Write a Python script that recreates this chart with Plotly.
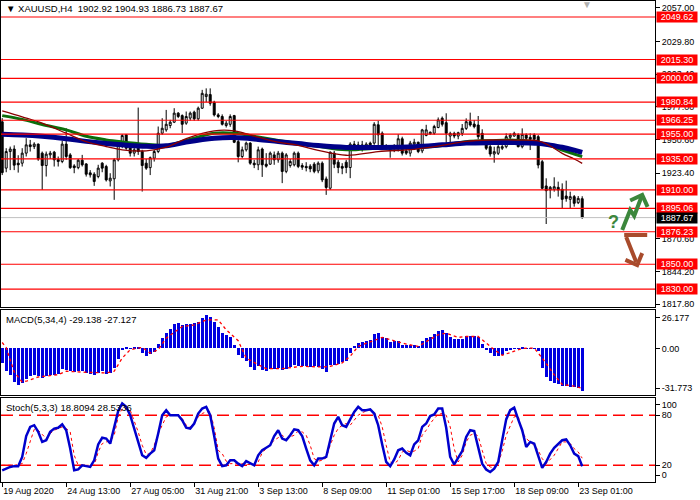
import plotly.graph_objects as go
from plotly.subplots import make_subplots

# ---- data (XAUUSD, H4) ----
bar_idx = list(range(146))

opens = [1965.0, 1927.6, 1941.0, 1943.0, 1931.6, 1931.6, 1939.7, 1946.4, 1945.0, 1947.0,
         1939.7, 1929.7, 1938.3, 1940.5, 1934.6, 1933.0, 1947.0, 1938.3, 1929.4, 1928.0,
         1934.0, 1931.0, 1923.8, 1922.7, 1920.8, 1931.6, 1928.9, 1917.3, 1919.0, 1934.3,
         1946.4, 1954.5, 1944.2, 1939.7, 1943.7, 1941.0, 1931.6, 1928.0, 1935.6, 1941.0,
         1955.8, 1958.5, 1962.0, 1964.7, 1972.0, 1970.0, 1963.9, 1968.0, 1972.8, 1967.4,
         1976.0, 1985.4, 1987.0, 1980.8, 1970.6, 1969.3, 1962.0, 1963.0, 1970.0, 1949.0,
         1937.0, 1942.4, 1947.8, 1931.6, 1930.3, 1943.0, 1930.8, 1930.8, 1938.3, 1934.3,
         1939.7, 1925.0, 1929.7, 1930.3, 1939.7, 1929.7, 1929.0, 1929.2, 1930.8, 1925.4,
         1931.6, 1918.9, 1911.4, 1939.7, 1932.4, 1929.0, 1932.4, 1928.1, 1947.0, 1943.7,
         1943.7, 1945.0, 1947.8, 1947.8, 1962.6, 1955.8, 1943.7, 1944.2, 1944.0, 1943.2,
         1951.3, 1941.5, 1939.7, 1947.0, 1948.5, 1941.5, 1954.0, 1955.3, 1955.8, 1960.4,
         1967.9, 1964.3, 1953.5, 1955.7, 1953.5, 1955.7, 1959.7, 1965.1, 1963.2, 1962.4,
         1955.7, 1948.2, 1944.9, 1939.0, 1939.6, 1943.6, 1944.9, 1952.5, 1953.5, 1954.3,
         1944.9, 1954.3, 1952.5, 1954.3, 1953.0, 1932.8, 1913.2, 1910.0, 1910.5, 1912.1,
         1910.5, 1905.1, 1902.4, 1904.6, 1899.7, 1902.92]
highs = [1968.0, 1943.7, 1945.0, 1946.0, 1938.0, 1943.7, 1951.8, 1950.4, 1948.5, 1947.5,
         1941.0, 1941.0, 1941.5, 1941.5, 1937.0, 1949.6, 1959.8, 1939.7, 1930.8, 1935.0,
         1938.3, 1931.6, 1926.0, 1924.3, 1930.3, 1932.4, 1930.3, 1923.5, 1935.6, 1949.0,
         1955.0, 1955.0, 1947.0, 1945.0, 1976.5, 1942.4, 1935.0, 1937.0, 1942.4, 1961.2,
         1967.9, 1974.6, 1966.6, 1976.0, 1972.8, 1971.0, 1973.3, 1973.3, 1974.0, 1977.3,
         1990.8, 1992.0, 1992.0, 1982.0, 1972.0, 1971.0, 1965.8, 1971.0, 1970.6, 1950.3,
         1945.0, 1949.0, 1948.5, 1934.3, 1945.0, 1944.2, 1939.7, 1941.0, 1941.0, 1941.5,
         1941.0, 1939.7, 1935.0, 1941.0, 1941.0, 1931.6, 1932.4, 1930.8, 1932.4, 1933.0,
         1933.0, 1920.8, 1941.0, 1941.5, 1934.3, 1931.6, 1934.3, 1948.5, 1949.6, 1949.0,
         1949.6, 1948.5, 1949.0, 1964.7, 1965.8, 1957.2, 1947.0, 1945.8, 1947.0, 1955.0,
         1953.0, 1943.2, 1949.6, 1951.3, 1949.0, 1959.3, 1962.6, 1957.2, 1962.6, 1968.5,
         1969.3, 1971.9, 1957.0, 1957.0, 1957.0, 1963.2, 1967.8, 1972.4, 1966.5, 1969.7,
         1959.0, 1949.8, 1946.3, 1944.9, 1946.3, 1947.0, 1955.7, 1955.7, 1957.0, 1955.7,
         1959.7, 1955.7, 1955.7, 1955.7, 1954.3, 1934.2, 1919.4, 1913.2, 1920.2, 1916.7,
         1915.3, 1917.5, 1908.6, 1905.9, 1905.1, 1904.93]
lows = [1922.0, 1924.3, 1926.0, 1926.0, 1924.0, 1928.9, 1937.0, 1941.0, 1943.0, 1933.5,
        1910.0, 1920.8, 1935.0, 1928.9, 1928.9, 1931.6, 1934.3, 1927.0, 1923.5, 1926.7,
        1928.9, 1920.8, 1920.0, 1913.3, 1919.4, 1924.3, 1916.8, 1912.8, 1902.0, 1933.0,
        1943.7, 1942.4, 1937.0, 1937.0, 1938.3, 1908.7, 1926.2, 1922.0, 1932.9, 1939.7,
        1954.5, 1957.0, 1959.8, 1964.0, 1968.0, 1955.8, 1962.6, 1966.0, 1965.9, 1965.9,
        1975.4, 1980.8, 1978.0, 1969.3, 1967.9, 1962.0, 1960.4, 1961.0, 1947.8, 1932.3,
        1935.6, 1941.0, 1930.3, 1927.6, 1926.0, 1920.5, 1928.0, 1930.3, 1930.3, 1932.0,
        1915.5, 1923.5, 1928.0, 1929.0, 1927.6, 1926.2, 1925.0, 1924.3, 1923.5, 1923.5,
        1916.3, 1906.0, 1910.0, 1927.6, 1923.5, 1922.7, 1923.5, 1919.5, 1942.4, 1942.4,
        1941.0, 1943.7, 1943.7, 1946.4, 1945.0, 1942.4, 1942.4, 1936.0, 1940.5, 1941.0,
        1937.8, 1938.3, 1937.0, 1945.0, 1939.7, 1939.7, 1953.3, 1954.5, 1954.5, 1959.8,
        1961.2, 1947.6, 1947.6, 1951.7, 1950.9, 1953.5, 1958.4, 1961.1, 1959.7, 1950.9,
        1946.3, 1942.2, 1936.9, 1932.0, 1938.2, 1942.2, 1943.6, 1950.3, 1953.0, 1944.4,
        1943.6, 1949.0, 1942.2, 1949.0, 1927.4, 1910.5, 1882.5, 1903.2, 1908.6, 1904.6,
        1895.1, 1900.5, 1895.1, 1896.5, 1898.6, 1886.73]
closes = [1924.0, 1941.0, 1943.0, 1930.0, 1930.3, 1939.7, 1946.4, 1945.0, 1947.0, 1935.0,
          1929.7, 1938.9, 1939.7, 1934.3, 1933.0, 1947.0, 1937.0, 1928.0, 1928.0, 1934.0,
          1930.3, 1922.7, 1922.2, 1916.8, 1927.6, 1927.6, 1918.1, 1919.5, 1934.3, 1947.0,
          1953.9, 1943.7, 1939.7, 1942.4, 1941.0, 1929.7, 1927.6, 1936.0, 1941.0, 1955.8,
          1959.8, 1963.0, 1964.7, 1972.0, 1969.3, 1963.0, 1969.3, 1972.0, 1967.4, 1976.0,
          1988.0, 1987.3, 1980.0, 1970.6, 1969.3, 1963.0, 1963.9, 1969.3, 1948.5, 1937.0,
          1942.4, 1947.8, 1931.6, 1930.3, 1942.4, 1930.3, 1929.2, 1939.7, 1934.3, 1939.7,
          1924.9, 1938.3, 1933.0, 1939.7, 1929.0, 1928.4, 1928.0, 1927.0, 1925.0, 1931.6,
          1918.1, 1912.0, 1940.5, 1930.8, 1928.1, 1927.6, 1928.1, 1947.0, 1943.7, 1946.4,
          1946.4, 1947.0, 1945.0, 1963.0, 1954.5, 1945.0, 1945.8, 1942.4, 1945.6, 1951.3,
          1939.7, 1939.7, 1947.8, 1948.5, 1941.0, 1958.5, 1958.5, 1956.6, 1961.2, 1966.6,
          1963.0, 1955.7, 1955.7, 1953.5, 1956.2, 1959.7, 1965.1, 1962.4, 1961.1, 1953.0,
          1947.6, 1943.6, 1939.0, 1940.9, 1944.9, 1944.9, 1953.0, 1954.3, 1955.7, 1944.9,
          1954.9, 1951.7, 1950.9, 1950.9, 1930.1, 1911.3, 1909.4, 1912.1, 1912.6, 1910.0,
          1902.4, 1903.0, 1904.6, 1899.2, 1903.2, 1887.67]

# moving averages, read at a handful of bars
ma_idx = [0, 5, 10, 16, 21, 26, 30, 36, 41, 46, 53, 58, 64, 69, 74, 79, 86, 94,
          103, 110, 116, 122, 128, 134, 137, 140, 143, 145]
ma_slow = [1955.0, 1954.4, 1953.3, 1951.3, 1949.2, 1947.5, 1946.4, 1945.2, 1945.6, 1948.6,
           1951.7, 1952.3, 1950.8, 1949.0, 1947.5, 1945.8, 1944.3, 1944.3, 1944.9, 1946.4,
           1947.8, 1948.2, 1948.2, 1947.6, 1946.2, 1944.5, 1942.2, 1940.4]
ma_mid = [1970.0, 1967.0, 1962.8, 1958.5, 1953.3, 1950.4, 1948.8, 1946.9, 1945.9, 1950.0,
          1955.8, 1955.8, 1952.8, 1950.0, 1947.5, 1945.2, 1942.4, 1943.7, 1944.2, 1945.9,
          1949.0, 1949.8, 1950.2, 1948.3, 1945.8, 1942.2, 1939.0, 1936.9]
ma_fast = [1973.8, 1969.0, 1963.9, 1955.8, 1949.0, 1945.0, 1942.4, 1941.6, 1944.5, 1951.5,
           1957.7, 1957.7, 1952.6, 1948.6, 1946.0, 1942.0, 1938.0, 1941.0, 1942.8, 1945.9,
           1949.2, 1950.3, 1950.3, 1949.6, 1945.5, 1939.5, 1935.0, 1931.5]

levels = [2049.62, 2015.30, 2000.00, 1980.84, 1966.25, 1955.00, 1935.00,
          1910.00, 1895.06, 1876.23, 1850.00, 1830.00]
last_price = 1887.67
price_ticks = [2057.00, 2029.80, 2003.40, 1977.00, 1950.60, 1923.40,
               1870.60, 1844.20, 1817.80]

macd_hist = [-9.9, -15.6, -18.3, -22.8, -25.1, -23.5, -20.6, -19.0, -17.9, -18.5,
             -20.1, -19.0, -17.9, -17.9, -17.4, -13.8, -14.5, -15.6, -16.3, -15.6,
             -15.6, -16.7, -17.4, -18.3, -16.7, -15.6, -17.4, -16.7, -13.3, -7.0,
             -0.5, 0.7, -0.2, 0.7, 0.7, -3.2, -5.4, -3.8, -2.5, 2.9,
             7.0, 10.4, 13.3, 16.5, 17.2, 16.0, 16.5, 16.5, 17.2, 18.3,
             21.0, 22.8, 21.7, 18.3, 14.9, 10.4, 8.8, 8.1, 2.0, -4.7,
             -6.6, -8.4, -12.9, -14.5, -12.2, -14.5, -15.6, -13.8, -13.8, -13.3,
             -14.5, -13.8, -12.9, -11.5, -12.2, -12.2, -12.2, -12.9, -12.2, -12.9,
             -13.8, -16.0, -11.5, -11.1, -10.6, -9.3, -8.8, -3.2, 1.4, 3.4,
             4.3, 5.2, 5.9, 9.9, 10.4, 8.1, 7.0, 4.3, 5.2, 5.2,
             2.0, 2.0, 2.5, 2.5, 1.4, 5.2, 7.0, 8.1, 9.7, 12.2,
             12.7, 10.4, 8.1, 6.6, 6.6, 6.6, 8.6, 8.6, 8.6, 7.5,
             2.9, -0.5, -3.2, -5.4, -5.4, -4.3, -2.0, -1.4, -0.1, 0.1,
             0.5, -0.1, 0.2, 0.2, -2.0, -13.3, -19.7, -22.4, -23.5, -24.6,
             -25.3, -25.8, -26.4, -26.4, -26.9, -29.138]
sig_idx = [0, 1, 3, 5, 6, 9, 14, 16, 21, 26, 28, 30, 32, 35, 37, 39, 41, 45, 48, 51,
           54, 56, 59, 61, 64, 66, 70, 75, 80, 82, 85, 87, 89, 91, 95, 98, 101, 104, 106, 109,
           111, 114, 116, 119, 120, 123, 125, 128, 130, 133, 135, 138, 140, 143, 145]
macd_signal = [4.0, 0.5, -16.0, -23.0, -22.4, -19.5, -17.9, -15.6, -16.3, -16.7,
               -15.6, -6.6, -0.9, 0.7, -3.2, -0.9, 7.0, 14.9, 16.0, 19.4,
               19.4, 12.7, 5.2, -6.6, -11.1, -13.8, -13.8, -12.2, -12.7, -12.2,
               -9.9, -5.4, 1.4, 3.6, 7.5, 5.2, 2.9, 1.4, 4.7, 9.3,
               10.4, 7.5, 8.1, 8.1, 5.9, -0.9, -4.7, -2.0, 0.0, 0.2,
               -6.6, -17.9, -24.6, -25.8, -27.127]

stoch_main = [14, 16, 18, 19, 19, 30, 55, 66, 68, 60,
              48, 50, 60, 64, 65, 69, 62, 40, 14, 15,
              20, 19, 18, 26, 45, 53, 52, 46, 65, 85,
              94, 90, 80, 65, 48, 32, 29, 34, 38, 58,
              80, 86, 80, 80, 80, 74, 65, 64, 70, 82,
              88, 90, 80, 55, 28, 19, 20, 26, 26, 22,
              19, 25, 22, 20, 32, 38, 41, 44, 55, 62,
              52, 50, 56, 63, 62, 55, 40, 26, 20, 28,
              28, 30, 50, 70, 78, 68, 66, 76, 84, 90,
              86, 86, 87, 82, 68, 45, 24, 19, 27, 38,
              40, 35, 32, 45, 50, 66, 70, 79, 81, 88,
              88, 65, 30, 21, 29, 37, 54, 62, 61, 42,
              22, 15, 12, 16, 24, 50, 75, 86, 89, 75,
              62, 42, 48, 46, 31, 17, 24, 34, 41, 45,
              50, 51, 44, 34, 31, 18.81]
stoch_signal = [20, 20, 20, 20, 21, 22, 34, 48, 63, 62,
                57, 52, 58, 62, 64, 66, 64, 60, 32, 20,
                20, 20, 20, 20, 36, 46, 48, 49, 56, 78,
                88, 88, 86, 74, 60, 44, 33, 34, 44, 58,
                68, 78, 80, 80, 80, 76, 68, 66, 70, 78,
                82, 84, 84, 65, 38, 34, 25, 22, 22, 22,
                22, 21, 21, 20, 24, 35, 40, 44, 50, 53,
                56, 52, 54, 56, 61, 60, 56, 44, 28, 25,
                26, 29, 44, 56, 64, 68, 70, 68, 74, 80,
                83, 85, 86, 82, 80, 66, 44, 24, 22, 26,
                36, 38, 36, 37, 40, 56, 62, 70, 76, 81,
                82, 80, 66, 40, 24, 32, 48, 56, 58, 55,
                38, 22, 18, 17, 22, 37, 56, 68, 78, 79,
                60, 52, 48, 44, 38, 28, 22, 27, 32, 40,
                48, 48, 46, 40, 36, 28.53]

date_idx = [0, 16, 32, 48, 64, 80, 96, 112, 128, 144]
date_labels = ['19 Aug 2020', '24 Aug 13:00', '27 Aug 05:00', '31 Aug 21:00', '3 Sep 13:00',
               '8 Sep 09:00', '11 Sep 01:00', '15 Sep 17:00', '18 Sep 09:00', '23 Sep 01:00']

FONT = 'Liberation Sans'
fig = make_subplots(rows=3, cols=1, shared_xaxes=True, vertical_spacing=0.01)

# price panel
fig.add_trace(go.Candlestick(
    x=bar_idx, open=opens, high=highs, low=lows, close=closes,
    increasing=dict(line=dict(color='black', width=1), fillcolor='white'),
    decreasing=dict(line=dict(color='black', width=1), fillcolor='black'),
    whiskerwidth=0, hoverinfo='skip'), row=1, col=1)
fig.add_trace(go.Scatter(x=ma_idx, y=ma_mid, mode='lines',
                         line=dict(color='#0B6E0B', width=3, shape='spline')), row=1, col=1)
fig.add_trace(go.Scatter(x=ma_idx, y=ma_slow, mode='lines',
                         line=dict(color='#000088', width=5, shape='spline')), row=1, col=1)
fig.add_trace(go.Scatter(x=ma_idx, y=ma_fast, mode='lines',
                         line=dict(color='#8B0000', width=1.3, shape='spline')), row=1, col=1)

# MACD panel
fig.add_trace(go.Bar(x=bar_idx, y=macd_hist, marker_color='#0000E0',
                     marker_line_width=0, width=0.72), row=2, col=1)
fig.add_trace(go.Scatter(x=sig_idx, y=macd_signal, mode='lines',
                         line=dict(color='#FF0000', width=1.3, dash='dot')), row=2, col=1)

# Stochastic panel
fig.add_trace(go.Scatter(x=bar_idx, y=stoch_signal, mode='lines',
                         line=dict(color='#FF0000', width=1, dash='dot')), row=3, col=1)
fig.add_trace(go.Scatter(x=bar_idx, y=stoch_main, mode='lines',
                         line=dict(color='#0000CD', width=2.5)), row=3, col=1)

# horizontal levels
for lvl in levels:
    fig.add_shape(type='line', xref='x domain', x0=0, x1=1, yref='y', y0=lvl, y1=lvl,
                  line=dict(color='#FF0000', width=1.2))
fig.add_shape(type='line', xref='x domain', x0=0, x1=1, yref='y', y0=last_price, y1=last_price,
              line=dict(color='#C0C0C0', width=1))
for lvl in (80, 20):
    fig.add_shape(type='line', xref='x3 domain', x0=0, x1=1, yref='y3', y0=lvl, y1=lvl,
                  layer='below', line=dict(color='#FF0000', width=1.5, dash='12px,6px'))

# forecast arrows (decoration)
green = '#3C873C'
brown = '#A84B2C'
fig.add_shape(type='path', xref='x', yref='y', path='M 155,1877.6 L 157,1893.8 L 158,1889.0 L 159.8,1904.3',
              line=dict(color=green, width=4))
fig.add_shape(type='path', xref='x', yref='y', path='M 157,1901.5 L 160,1905.9 L 161.35,1896.3',
              line=dict(color=green, width=4))
fig.add_shape(type='path', xref='x', yref='y', path='M 161.25,1873.6 L 155.5,1873.6 M 156,1872.0 L 158.5,1851.8',
              line=dict(color=brown, width=4))
fig.add_shape(type='path', xref='x', yref='y', path='M 155.8,1853.5 L 158.75,1849.4 L 160.0,1859.0',
              line=dict(color=brown, width=4))

ann = []
ann.append(dict(x=152.75, y=1884.1, xref='x', yref='y', text='<b>?</b>', showarrow=False,
                font=dict(family=FONT, size=18, color=green)))
for lvl in levels:
    ann.append(dict(x=1, xref='paper', xanchor='left', xshift=1, y=lvl, yref='y',
                    text=f'{lvl:.2f}', showarrow=False, bgcolor='#FF0000', width=40, height=10,
                    borderpad=0, font=dict(family=FONT, size=9, color='white')))
ann.append(dict(x=1, xref='paper', xanchor='left', xshift=1, y=last_price, yref='y',
                text=f'{last_price:.2f}', showarrow=False, bgcolor='black', width=40, height=10,
                borderpad=0, font=dict(family=FONT, size=9, color='white')))
ann.append(dict(x=0, xref='paper', xanchor='left', xshift=3, y=1, yref='paper', yanchor='top',
                text='▼ XAUUSD,H4\u00a0 1902.92 1904.93 1886.73 1887.67', showarrow=False,
                font=dict(family=FONT, size=9.5, color='black')))
ann.append(dict(x=0, xref='paper', xanchor='left', xshift=3, y=1, yref='y2 domain', yanchor='top',
                yshift=-2, text='MACD(5,34,4) -29.138 -27.127', showarrow=False,
                font=dict(family=FONT, size=9.5, color='black')))
ann.append(dict(x=0, xref='paper', xanchor='left', xshift=3, y=1, yref='y3 domain', yanchor='top',
                yshift=-2, text='Stoch(5,3,3) 18.8094 28.5336', showarrow=False,
                font=dict(family=FONT, size=9.5, color='black')))
ann.append(dict(x=146.3, xref='x', y=1, yref='paper', yanchor='top', yshift=4, text='▼',
                showarrow=False, font=dict(family=FONT, size=10, color='#B0B0B0')))

fig.update_layout(
    width=700, height=500, template='none',
    paper_bgcolor='white', plot_bgcolor='white',
    margin=dict(l=1, r=45, t=1, b=18),
    showlegend=False, bargap=0,
    font=dict(family=FONT, size=9, color='black'),
    annotations=ann,
    yaxis=dict(domain=[0.3638, 1.0]),
    yaxis2=dict(domain=[0.1809, 0.3576]),
    yaxis3=dict(domain=[0.0, 0.1736]),
)

fig.update_xaxes(range=[-0.3, 163.2], showgrid=False, zeroline=False, showline=True, mirror=True,
                 linecolor='black', linewidth=1, rangeslider_visible=False,
                 showticklabels=False, ticks='', automargin=False)
fig.update_xaxes(row=3, col=1, tickmode='array', tickvals=date_idx, ticktext=date_labels,
                 showticklabels=True, ticks='outside', ticklen=4, tickcolor='black',
                 ticklabelposition='outside right', tickfont=dict(family=FONT, size=9))

axis_common = dict(side='right', showgrid=False, zeroline=False, showline=True, mirror=True,
                   linecolor='black', linewidth=1, ticks='outside', ticklen=4, tickcolor='black',
                   tickfont=dict(family=FONT, size=9, color='black'), automargin=False,
                   tickmode='array')
fig.update_yaxes(row=1, col=1, range=[1815.48, 2062.54], tickvals=price_ticks,
                 ticktext=[f'{v:.2f}' for v in price_ticks], **axis_common)
fig.update_yaxes(row=2, col=1, range=[-31.773, 26.177], tickvals=[20.8, 0, -27.2],
                 ticktext=['26.177', '0.00', '-31.773'], **axis_common)
fig.update_yaxes(row=3, col=1, range=[0, 100], tickvals=[93, 80, 20, 8],
                 ticktext=['100', '80', '20', '0'], **axis_common)

# the page has a default 8px body margin; drop it so the chart sits at the top-left corner
fig.write_html("out.html", config={'displayModeBar': False},
               post_script="document.body.style.margin='0';")
